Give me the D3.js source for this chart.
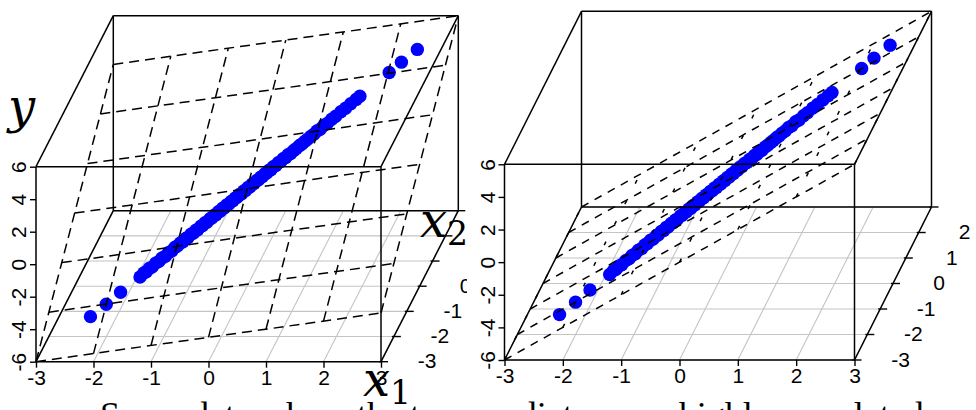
<!DOCTYPE html>
<html><head><meta charset="utf-8">
<script src="https://cdn.jsdelivr.net/npm/d3@7"></script>
<style>html,body{margin:0;padding:0;background:#fff;overflow:hidden}svg{display:block}</style>
</head><body>
<svg id="c" width="976" height="410"></svg>
<script>
// ---------- data ----------
const x1Ticks = [-3, -2, -1, 0, 1, 2, 3];
const x2Ticks = [-3, -2, -1, 0, 1, 2, 3];
const yTicks  = [-6, -4, -2, 0, 2, 4, 6];

const x1Values = [-2.23,-2.00,-1.80,-1.52,-1.47,-1.43,-1.39,-1.35,-1.30,-1.25,
  -1.21,-1.16,-1.12,-1.07,-1.03,-0.99,-0.95,-0.91,-0.87,-0.84,
  -0.80,-0.76,-0.73,-0.70,-0.66,-0.63,-0.60,-0.57,-0.53,-0.50,
  -0.47,-0.44,-0.41,-0.38,-0.35,-0.32,-0.29,-0.26,-0.23,-0.20,
  -0.17,-0.14,-0.11,-0.08,-0.05,-0.02,0.01,0.04,0.07,0.10,
  0.13,0.16,0.19,0.22,0.25,0.28,0.31,0.34,0.37,0.41,
  0.44,0.48,0.51,0.55,0.58,0.62,0.66,0.70,0.74,0.78,
  0.82,0.86,0.90,0.95,0.99,1.04,1.09,1.14,1.20,1.26,
  1.33,1.40,1.47,1.55,1.60,2.02,2.19,2.42];
const x2Values = [-2.21,-2.01,-1.79,-1.53,-1.46,-1.44,-1.38,-1.36,-1.29,-1.26,
  -1.20,-1.17,-1.11,-1.08,-1.02,-1.00,-0.94,-0.92,-0.86,-0.85,
  -0.79,-0.77,-0.72,-0.71,-0.65,-0.64,-0.59,-0.58,-0.52,-0.51,
  -0.46,-0.45,-0.40,-0.39,-0.34,-0.33,-0.28,-0.27,-0.22,-0.21,
  -0.16,-0.15,-0.10,-0.09,-0.04,-0.03,0.02,0.03,0.08,0.09,
  0.14,0.15,0.20,0.21,0.26,0.27,0.32,0.33,0.38,0.40,
  0.45,0.47,0.52,0.54,0.59,0.61,0.67,0.69,0.75,0.77,
  0.83,0.85,0.91,0.94,1.00,1.03,1.10,1.13,1.21,1.25,
  1.34,1.39,1.48,1.54,1.61,2.01,2.20,2.41];
const yValues = [-4.45,-4.00,-3.60,-3.06,-2.92,-2.88,-2.76,-2.72,-2.58,-2.52,
  -2.40,-2.34,-2.22,-2.16,-2.04,-1.98,-1.88,-1.84,-1.72,-1.70,
  -1.58,-1.54,-1.44,-1.42,-1.30,-1.28,-1.18,-1.16,-1.04,-1.02,
  -0.92,-0.90,-0.80,-0.78,-0.68,-0.66,-0.56,-0.54,-0.44,-0.42,
  -0.32,-0.30,-0.20,-0.18,-0.08,-0.06,0.04,0.06,0.16,0.18,
  0.28,0.30,0.40,0.42,0.52,0.54,0.64,0.66,0.76,0.80,
  0.90,0.94,1.04,1.08,1.18,1.22,1.32,1.40,1.48,1.56,
  1.64,1.72,1.80,1.90,2.00,2.06,2.20,2.26,2.40,2.52,
  2.66,2.80,2.94,3.10,3.20,4.04,4.38,4.84];

// fitted planes: [intercept, coef x1, coef x2]
const planeLeft  = [0, 0.5, 1.5];
const planeRight = [0, 2.0, 0.0];

const captionText = "Some data where the two predictors are highly correlated";

// ---------- layout ----------
const svg = d3.select("#c");
const FONT = "'Liberation Sans', Arial, sans-serif";
const fmt = d => String(d);   // plain hyphen-minus like the reference

const panels = [
  {X0: 36, X1: 381, Ybot: 361.7, Ytop: 166.7, DX: 77.3, DY: -151, plane: planeLeft,
   dashA: "10,6", dashB: "10,6"},
  {X0: 504.5, X1: 854.5, Ybot: 360, Ytop: 164.3, DX: 77, DY: -153, plane: planeRight,
   dashA: "4,19", dashB: "8,7"}
];

function drawPanel(g, cfg) {
  const sx = d3.scaleLinear().domain([-3, 3]).range([cfg.X0, cfg.X1]);
  const sy = d3.scaleLinear().domain([-6, 6]).range([cfg.Ybot, cfg.Ytop]);
  const dX = d3.scaleLinear().domain([-3, 3]).range([0, cfg.DX]);
  const dY = d3.scaleLinear().domain([-3, 3]).range([0, cfg.DY]);
  const P = (a, b, c) => [sx(a) + dX(b), sy(c) + dY(b)];
  const line = (sel, p, q) => sel.append("line").attr("x1", p[0]).attr("y1", p[1])
      .attr("x2", q[0]).attr("y2", q[1]);

  // floor grid
  const grid = g.append("g").attr("stroke", "#c4c4c4").attr("stroke-width", 1.1);
  x2Ticks.forEach(m => line(grid, P(-3, m, -6), P(3, m, -6)));
  x1Ticks.forEach(k => line(grid, P(k, -3, -6), P(k, 3, -6)));

  // points
  const pts = d3.range(x1Values.length).map(i => P(x1Values[i], x2Values[i], yValues[i]));
  g.append("g").selectAll("circle").data(pts).join("circle")
    .attr("cx", d => d[0]).attr("cy", d => d[1]).attr("r", 6.7).attr("fill", "#0000ff");

  // box
  const box = g.append("g").attr("stroke", "#000").attr("stroke-width", 1.5).attr("fill", "none");
  const edges = [
    [[-3,-3,-6],[3,-3,-6]], [[3,-3,-6],[3,-3,6]], [[3,-3,6],[-3,-3,6]], [[-3,-3,6],[-3,-3,-6]],
    [[-3,3,6],[3,3,6]], [[-3,3,-6],[3,3,-6]], [[-3,3,-6],[-3,3,6]], [[3,3,-6],[3,3,6]],
    [[-3,-3,6],[-3,3,6]], [[3,-3,6],[3,3,6]], [[-3,-3,-6],[-3,3,-6]], [[3,-3,-6],[3,3,-6]]
  ];
  edges.forEach(([a, b]) => line(box, P(...a), P(...b)));

  // x1 axis
  const ax = g.append("g").attr("transform", `translate(0,${cfg.Ybot})`)
    .call(d3.axisBottom(sx).tickValues(x1Ticks).tickSize(6).tickPadding(2).tickFormat(fmt));
  ax.select(".domain").remove();
  ax.selectAll("line").attr("stroke-width", 1.4);
  ax.selectAll("text").attr("font-family", FONT).attr("font-size", 21).attr("fill", "#000");

  // y axis
  const ay = g.append("g").attr("transform", `translate(${cfg.X0},0)`)
    .call(d3.axisLeft(sy).tickValues(yTicks).tickSize(6).tickFormat(fmt));
  ay.select(".domain").remove();
  ay.selectAll("line").attr("stroke-width", 1.4);
  ay.selectAll("text").attr("font-family", FONT).attr("font-size", 21).attr("fill", "#000")
    .attr("x", 0).attr("dy", "0.36em").attr("text-anchor", "middle")
    .attr("transform", "translate(-17.5,0) rotate(-90)");

  // x2 axis on the right floor edge
  const a2 = g.append("g");
  x2Ticks.forEach(m => {
    const p = P(3, m, -6);
    a2.append("line").attr("x1", p[0] - 2).attr("y1", p[1]).attr("x2", p[0] + 7).attr("y2", p[1])
      .attr("stroke", "#000").attr("stroke-width", 1.4);
    if (p[0] + 46 < 972) {
      a2.append("text").attr("x", p[0] + 46).attr("y", p[1] - 1).attr("dy", "0.36em")
        .attr("text-anchor", "middle").attr("font-family", FONT).attr("font-size", 21).text(fmt(m));
    }
  });

  // regression plane (dashed)
  const [b0, b1, b2] = cfg.plane;
  const f = (a, b) => b0 + b1 * a + b2 * b;
  const pl = g.append("g").attr("stroke", "#000").attr("stroke-width", 1.5).attr("fill", "none");
  x1Ticks.forEach(k => line(pl, P(k, -3, f(k, -3)), P(k, 3, f(k, 3))).attr("stroke-dasharray", cfg.dashA));
  x2Ticks.forEach(m => line(pl, P(-3, m, f(-3, m)), P(3, m, f(3, m))).attr("stroke-dasharray", cfg.dashB));
}

svg.append("rect").attr("width", 976).attr("height", 410).attr("fill", "#fff");
drawPanel(svg.append("g"), panels[0]);
svg.append("rect").attr("x", 467).attr("y", 0).attr("width", 509).attr("height", 410).attr("fill", "#fff");
drawPanel(svg.append("g"), panels[1]);

// math axis labels over the left panel
const MATH = "'DejaVu Serif', 'Liberation Serif', serif";
svg.append("text").attr("x", 8).attr("y", 123).attr("font-family", MATH).attr("font-style", "italic")
  .attr("font-size", 48).text("y");
const lx2 = svg.append("text").attr("x", 420).attr("y", 237).attr("font-family", MATH).attr("font-size", 48);
lx2.append("tspan").attr("font-style", "italic").text("x");
lx2.append("tspan").attr("font-size", 33).attr("dy", 8).text("2");
const lx1 = svg.append("text").attr("x", 363).attr("y", 396).attr("font-family", MATH).attr("font-size", 48);
lx1.append("tspan").attr("font-style", "italic").text("x");
lx1.append("tspan").attr("font-size", 33).attr("dy", 8).text("1");

// caption (cut by the bottom edge)
svg.append("text").attr("x", 100).attr("y", 427).attr("font-family", "'Liberation Serif', serif")
  .attr("font-size", 36).text(captionText);
</script>
</body></html>
